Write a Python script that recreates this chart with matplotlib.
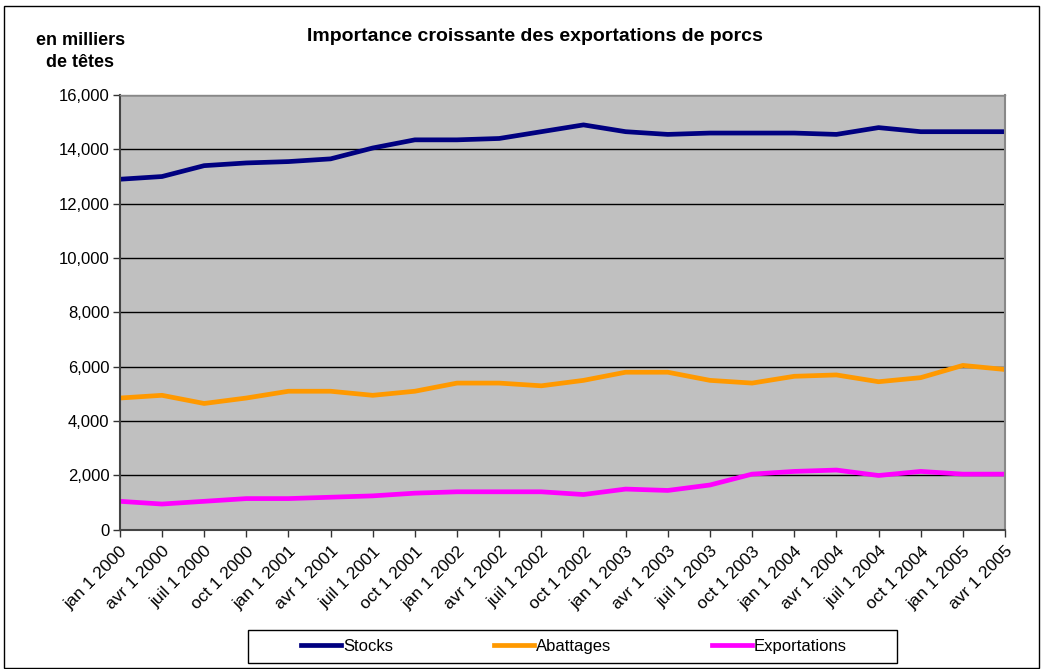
import numpy as np
import matplotlib.pyplot as plt
from matplotlib.patches import Rectangle

plt.rcParams['font.family'] = ['Liberation Sans', 'DejaVu Sans']

dates = ['jan 1 2000', 'avr 1 2000', 'juil 1 2000', 'oct 1 2000',
         'jan 1 2001', 'avr 1 2001', 'juil 1 2001', 'oct 1 2001',
         'jan 1 2002', 'avr 1 2002', 'juil 1 2002', 'oct 1 2002',
         'jan 1 2003', 'avr 1 2003', 'juil 1 2003', 'oct 1 2003',
         'jan 1 2004', 'avr 1 2004', 'juil 1 2004', 'oct 1 2004',
         'jan 1 2005', 'avr 1 2005']

stocks = [12900, 13000, 13400, 13500, 13550, 13650, 14050, 14350, 14350, 14400, 14650,
          14900, 14650, 14550, 14600, 14600, 14600, 14550, 14800, 14650, 14650, 14650]
abattages = [4850, 4950, 4650, 4850, 5100, 5100, 4950, 5100, 5400, 5400, 5300,
             5500, 5800, 5800, 5500, 5400, 5650, 5700, 5450, 5600, 6050, 5900]
exportations = [1050, 950, 1050, 1150, 1150, 1200, 1250, 1350, 1400, 1400, 1400,
                1300, 1500, 1450, 1650, 2050, 2150, 2200, 2000, 2150, 2050, 2050]

fig = plt.figure(figsize=(10.42, 6.69), dpi=100)
ax = fig.add_axes([0.115, 0.208, 0.8495, 0.65])
ax.set_facecolor('#C0C0C0')

x = np.arange(len(dates))
ax.plot(x, stocks, color='#000080', lw=3.4, label='Stocks')
ax.plot(x, abattages, color='#FF9900', lw=3.4, label='Abattages')
ax.plot(x, exportations, color='#FF00FF', lw=3.4, label='Exportations')

ax.set_xlim(0, len(dates) - 1)
ax.set_ylim(0, 16000)
ax.set_yticks(range(0, 16001, 2000))
ax.set_yticklabels([f'{v:,}' for v in range(0, 16001, 2000)], fontsize=12)
ax.set_xticks(x)
ax.set_xticklabels(dates, rotation=45, ha='right', rotation_mode='anchor', fontsize=12.5)
ax.yaxis.grid(True, color='black', lw=1)
ax.set_axisbelow(True)
ax.tick_params(axis='both', direction='out', length=5, color='#333333', width=1, pad=2.5)
ax.tick_params(axis='x', pad=5)

for s in ['left', 'bottom']:
    ax.spines[s].set_color('#444444')
    ax.spines[s].set_linewidth(1.5)
ax.spines['right'].set_color('#888888')
ax.spines['right'].set_linewidth(1.5)
ax.spines['top'].set_color('#888888')
ax.spines['top'].set_linewidth(1)

fig.text(0.513, 0.946, 'Importance croissante des exportations de porcs',
         ha='center', va='center', fontsize=14, fontweight='bold')
fig.text(0.077, 0.94, 'en milliers', ha='center', va='center', fontsize=13, fontweight='bold')
fig.text(0.077, 0.907, 'de têtes', ha='center', va='center', fontsize=13, fontweight='bold')

fig.legend(loc='center', bbox_to_anchor=(0.551, 0.0336), ncol=3, frameon=False,
           fontsize=12, handlelength=2.4, handletextpad=0.15, columnspacing=6.0)

fig.patches.append(Rectangle((0.238, 0.009), 0.623, 0.049, transform=fig.transFigure,
                             fill=False, edgecolor='black', lw=1))
fig.patches.append(Rectangle((0.004, 0.002), 0.993, 0.989, transform=fig.transFigure,
                             fill=False, edgecolor='black', lw=1))

fig.savefig('out.png', dpi=100)
